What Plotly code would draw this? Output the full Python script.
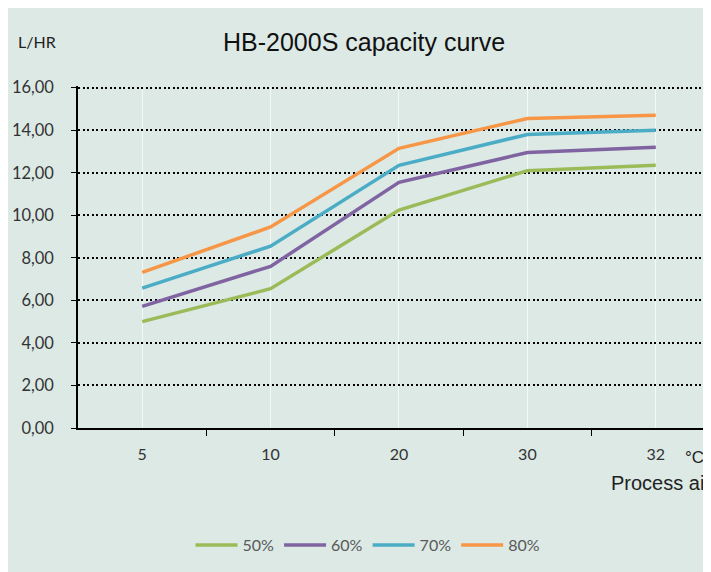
import plotly.graph_objects as go

categories = ["5", "10", "20", "30", "32"]
series_names = ["50%", "60%", "70%", "80%"]
rh50 = [5.0, 6.55, 10.25, 12.1, 12.35]
rh60 = [5.72, 7.6, 11.55, 12.95, 13.2]
rh70 = [6.58, 8.55, 12.35, 13.8, 14.0]
rh80 = [7.32, 9.45, 13.15, 14.55, 14.7]
y_ticks = [0, 2, 4, 6, 8, 10, 12, 14, 16]

colors = ["#9bbb59", "#8064a2", "#4bacc6", "#f79646"]
xs = list(range(len(categories)))

# page body has an 8px margin; figure coordinates = window coordinates - 8
OFF = 8
W, H = 703, 564
L, R, T, B = 70, 0, 78, 144
pw, ph = W - L - R, H - T - B

fig = go.Figure()
for name, vals, c in zip(series_names, [rh50, rh60, rh70, rh80], colors):
    fig.add_trace(go.Scatter(x=xs, y=vals, name=name, mode="lines",
                             line=dict(color=c, width=3.5)))

bg = "#dce9e5"
def px_x(p):
    return (p - OFF - L) / pw
def px_y(p):
    return (H - B - (p - OFF)) / ph

fig.update_layout(
    width=W, height=H,
    margin=dict(l=L, r=R, t=T, b=B, pad=0),
    paper_bgcolor=bg,
    plot_bgcolor="rgba(0,0,0,0)",
    separators=",.",
    showlegend=True,
    legend=dict(orientation="h", x=px_x(368), y=px_y(545), xanchor="center",
                yanchor="middle", font=dict(family="Lato", size=16, color="#595959"),
                bgcolor="rgba(0,0,0,0)", itemwidth=42, tracegroupgap=0),
    font=dict(family="Lato"),
)

fig.update_xaxes(
    range=[-0.5, 4.43],
    tickvals=xs, ticktext=categories, ticks="",
    tickfont=dict(family="Lato", size=16, color="#333333"),
    showgrid=True, gridcolor="#f4f9f7", gridwidth=1,
    showline=True, linecolor="black", linewidth=1.5,
    zeroline=False,
    minor=dict(tickvals=[0.5, 1.5, 2.5, 3.5], ticks="outside", ticklen=6,
               tickcolor="black", tickwidth=1.2, showgrid=False),
    ticklabelstandoff=11,
)
fig.update_yaxes(
    range=[0, 16.08], tickvals=y_ticks, tickformat=".2f",
    ticks="outside", ticklen=5, tickcolor="black", tickwidth=1.2,
    tickfont=dict(family="Lato", size=16.5, color="#333333"),
    showgrid=True, gridcolor="black", gridwidth=2.2, griddash="2.2px,2.3px",
    showline=True, linecolor="black", linewidth=1.5,
    zeroline=False, ticklabelstandoff=14,
)

fig.add_annotation(text="HB-2000S capacity curve", xref="paper", yref="paper",
                   x=px_x(364), y=px_y(42), xanchor="center", yanchor="middle",
                   showarrow=False, font=dict(family="Liberation Sans", size=25, color="#111111"))
fig.add_annotation(text="L/HR", xref="paper", yref="paper",
                   x=px_x(16), y=px_y(42), xanchor="left", yanchor="middle",
                   showarrow=False, font=dict(family="Lato", size=16, color="#222222"))
fig.add_annotation(text="°C", xref="paper", yref="paper",
                   x=px_x(683), y=px_y(457), xanchor="left", yanchor="middle",
                   showarrow=False, font=dict(family="Liberation Sans", size=17, color="#222222"))
fig.add_annotation(text="Process air", xref="paper", yref="paper",
                   x=px_x(609), y=px_y(483), xanchor="left", yanchor="middle",
                   showarrow=False, font=dict(family="Liberation Sans", size=20, color="#222222"))

fig.write_html("out.html")
